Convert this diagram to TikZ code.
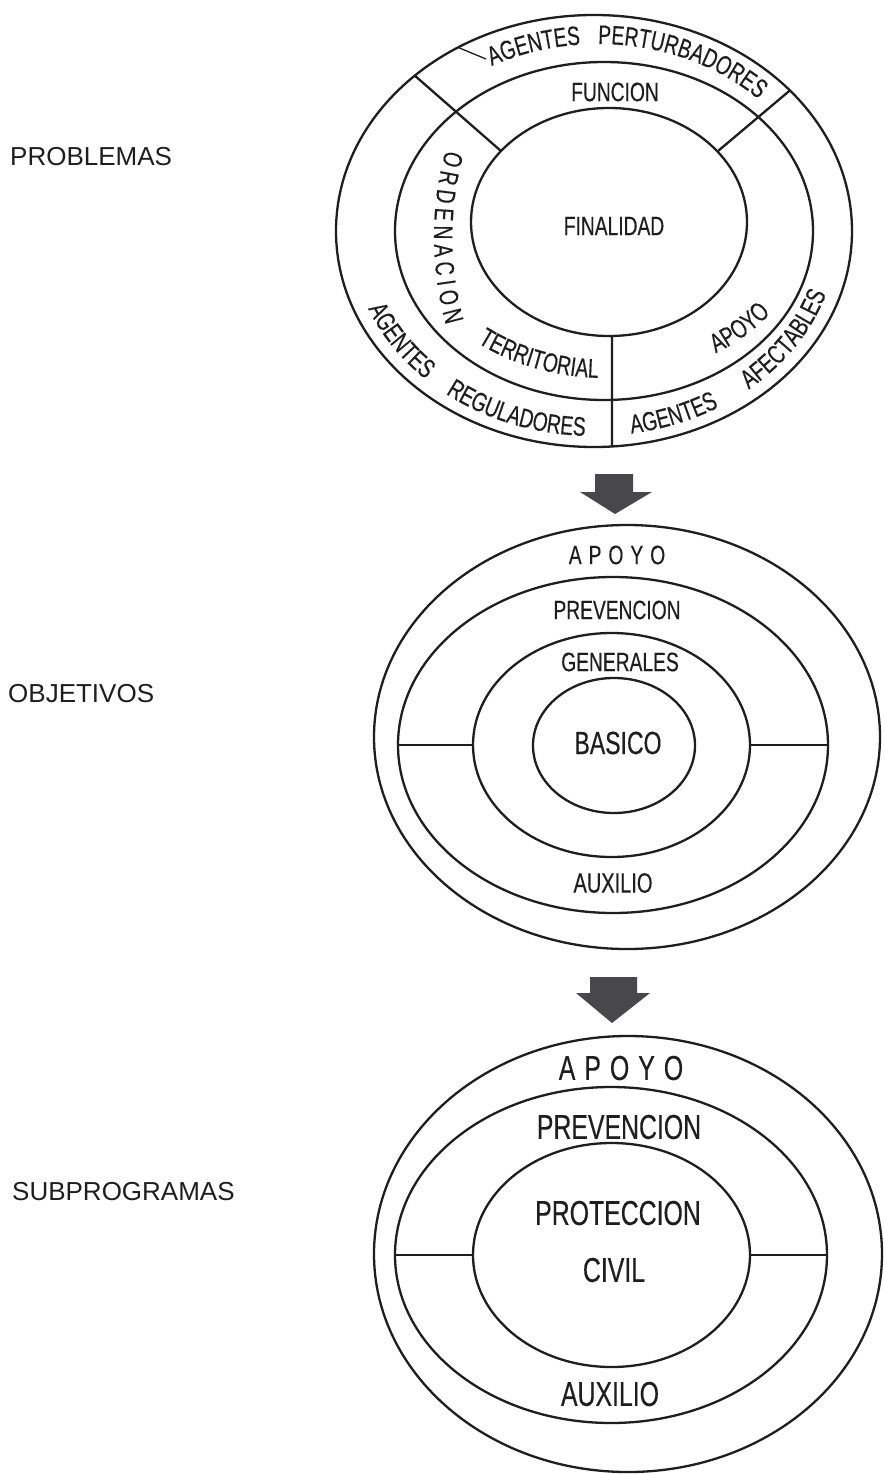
\documentclass[tikz,border=0pt]{standalone}
\usepackage{fontspec}
\setmainfont{Liberation Sans}
\newfontfamily\condf[FakeStretch=0.72,FakeBold=0.3]{Liberation Sans}
\usetikzlibrary{shapes.geometric,decorations.text,calc}
\definecolor{ink}{RGB}{30,30,30}
\definecolor{arrowgray}{RGB}{72,72,74}
% #1 cx, #2 cy, #3 rx, #4 ry, #5 start, #6 end, #7 size, #8 align, #9 text
\newcommand\ArcWord[9]{%
  \path[decorate,decoration={text along path,text align=#8,
    text={|\color{ink}\condf\fontsize{#7}{#7}\selectfont|#9}}]
    ($(#1,#2)+(#5:#3pt and #4pt)$) arc[start angle=#5,end angle=#6,x radius=#3pt,y radius=#4pt];}
\begin{document}
\begin{tikzpicture}[x=1pt,y=1pt,
  ring/.style={draw=ink,line width=2.3pt,ellipse,inner sep=0pt,outer sep=0pt},
  sep/.style={draw=ink,line width=2.3pt},
  thin/.style={draw=ink,line width=1.3pt},
  lbl/.style={text=ink,inner sep=0pt,font=\condf\fontsize{26.7}{26.7}\selectfont},
  big/.style={text=ink,inner sep=0pt,font=\condf\fontsize{34.5}{34.5}\selectfont},
  side/.style={text=ink,inner sep=0pt,anchor=west,font=\fontsize{26}{26}\selectfont},
  blockarrow/.style={fill=arrowgray,draw=none}]
\fill[white] (0,0) rectangle (883,-1474);
\useasboundingbox (0,0) rectangle (883,-1474);

% ---------- left labels
\node[side] (lp) at (10,-157) {PROBLEMAS};
\node[side] (lo) at (8,-694) {OBJETIVOS};
\node[side] (ls) at (12,-1192) {SUBPROGRAMAS};

% ---------- diagram 1 : PROBLEMAS
\node[ring,minimum width=516pt,minimum height=432pt] (o1) at (594,-231) {};
\node[ring,minimum width=418pt,minimum height=338pt] (m1) at (604,-231) {};
\node[ring,minimum width=276pt,minimum height=228pt] (i1) at (609,-222) {};
\coordinate (ulA) at ($(o1.center)+(134:258pt and 216pt)$);
\coordinate (ulB) at ($(i1.center)+(141.5:138pt and 114pt)$);
\coordinate (urA) at ($(o1.center)+(40.6:258pt and 216pt)$);
\coordinate (urB) at ($(i1.center)+(38.2:138pt and 114pt)$);
\coordinate (vA) at ($(i1.center)+(271.2:138pt and 114pt)$);
\coordinate (vB) at ($(o1.center)+(274:258pt and 216pt)$);
\coordinate (ldA) at ($(o1.center)+(121.8:258pt and 216pt)$);
\coordinate (ldB) at (486,-59);
\draw[sep] (ulA) -- (ulB);
\draw[sep] (urA) -- (urB);
\draw[sep] (vA) -- (vB);
\draw[thin] (ldA) -- (ldB);

\node[lbl] (funcion) at (615,-92) {FUNCION};
\node[lbl] (finalidad) at (614,-226) {FINALIDAD};

\ArcWord{598}{-231}{226}{187}{128.5}{84.5}{26.7}{center}{AGENTES}
\ArcWord{598}{-231}{226}{187}{97}{37}{26.7}{center}{PERTURBADORES}
\ArcWord{605}{-237}{171}{239}{158.7}{201.6}{26.7}{fit to path}{ORDENACION}
\ArcWord{606}{-222}{203}{156}{225}{273}{26.7}{center}{TERRITORIAL}
\ArcWord{606}{-222}{203}{156}{295}{333}{26.7}{center}{APOYO}
\ArcWord{594}{-231}{244}{205}{195}{233}{26.7}{center}{AGENTES}
\ArcWord{594}{-231}{244}{205}{225}{275}{26.7}{center}{REGULADORES}
\ArcWord{594}{-231}{244}{205}{271}{309}{26.7}{center}{AGENTES}
\ArcWord{594}{-231}{244}{205}{305}{347}{26.7}{center}{AFECTABLES}

% ---------- arrow 1
\fill[blockarrow] (595,-474) -- (633,-474) -- (633,-492) -- (652,-492) -- (615,-514) -- (580,-492) -- (595,-492) -- cycle;

% ---------- diagram 2 : OBJETIVOS
\node[ring,minimum width=506pt,minimum height=424pt] (o2) at (627,-737) {};
\node[ring,minimum width=430pt,minimum height=336pt] (m2) at (613,-745) {};
\node[ring,minimum width=277pt,minimum height=224pt] (t2) at (611.5,-745) {};
\node[ring,minimum width=162pt,minimum height=135pt] (i2) at (614,-745.5) {};
\draw[sep] (m2.west) -- (t2.west);
\draw[sep] (t2.east) -- (m2.east);
\node[lbl] (apoyo2) at (617,-555) {A\hspace{7pt}P\hspace{7pt}O\hspace{7pt}Y\hspace{7pt}O};
\node[lbl] (prev2) at (617,-610) {PREVENCION};
\node[lbl] (gen2) at (620,-662) {GENERALES};
\node[lbl,font=\condf\fontsize{32}{32}\selectfont] (basico) at (618,-743) {BASICO};
\node[lbl,font=\condf\fontsize{27.8}{27.8}\selectfont] (aux2) at (613,-883) {AUXILIO};

% ---------- arrow 2
\fill[blockarrow] (590,-977) -- (637,-977) -- (637,-993) -- (650,-993) -- (612,-1023) -- (576,-993) -- (590,-993) -- cycle;

% ---------- diagram 3 : SUBPROGRAMAS
\node[ring,minimum width=508pt,minimum height=436pt] (o3) at (628,-1254) {};
\node[ring,minimum width=432pt,minimum height=336pt] (m3) at (611,-1255) {};
\node[ring,minimum width=277pt,minimum height=224pt] (i3) at (611.5,-1255) {};
\draw[sep] (m3.west) -- (i3.west);
\draw[sep] (i3.east) -- (m3.east);
\node[big] (apoyo3) at (621,-1068) {A\hspace{9pt}P\hspace{9pt}O\hspace{9pt}Y\hspace{9pt}O};
\node[big] (prev3) at (619,-1127) {PREVENCION};
\node[big] (prot3) at (618,-1213) {PROTECCION};
\node[big] (civil3) at (614,-1270) {CIVIL};
\node[big] (aux3) at (610,-1394) {AUXILIO};
\end{tikzpicture}
\end{document}
